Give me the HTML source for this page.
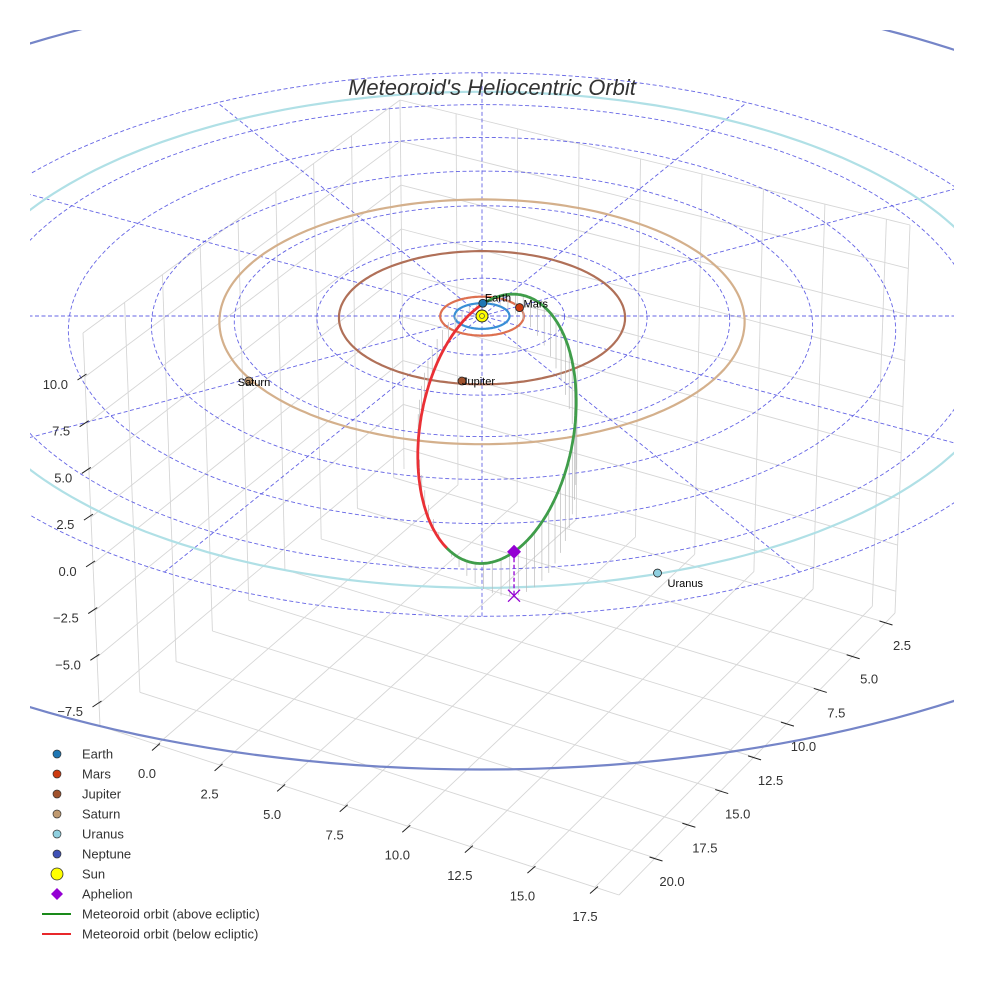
<!DOCTYPE html>
<html><head><meta charset="utf-8"><title>Meteoroid's Heliocentric Orbit</title>
<style>
html,body{margin:0;padding:0;background:#fff;}
svg{display:block;font-family:"Liberation Sans",sans-serif;}
</style></head>
<body>
<svg id="chart" width="984" height="984" viewBox="0 0 984 984" xmlns="http://www.w3.org/2000/svg">
<defs><clipPath id="clipArea"><rect x="30" y="30" width="924" height="920"/></clipPath></defs>
<rect x="0" y="0" width="984" height="984" fill="#fff"/>
<g id="boxGrid"></g>
<g id="ecliptic" clip-path="url(#clipArea)"></g>
<g id="meteor"></g>
<g id="marks"></g>
<g id="ticks"></g>
<text x="492" y="95" text-anchor="middle" font-size="22" font-style="italic" fill="#333">Meteoroid's Heliocentric Orbit</text>
<g id="legend"></g>
</svg>
<script>
// ---- data ----
const xTicks = [0, 2.5, 5, 7.5, 10, 12.5, 15, 17.5];
const yTicks = [2.5, 5, 7.5, 10, 12.5, 15, 17.5, 20];
const zTicks = [-7.5, -5, -2.5, 0, 2.5, 5, 7.5, 10];
const planetNames = ["Earth", "Mars", "Jupiter", "Saturn", "Uranus", "Neptune"];
const planetRadii = [1.0, 1.52, 5.2, 9.54, 19.2, 30.1];
const planetX = [0.03, 1.37, -0.71, -8.27, 5.8, -29.0];
const planetY = [-1.0, -0.66, 4.95, 4.95, 18.25, -8.0];
const ringRadii = [3, 6, 9, 12, 15, 18, 21];
const spokeAngles = [0, 30, 60, 90, 120, 150];
const meteoroidAphelion = [1.05, 19.7, 3.3];
const meteoroidPerihelionDist = [1.0];
const meteoroidMinorDir = [0.6, 0, 0.8];

// ---- styles ----
const planetRingColors = ["#3a8fd6", "#dd7050", "#b07058", "#d4b08c", "#b0e0e6", "#7585c8"];
const planetFill = ["#1f77b4", "#cc3a10", "#a0522d", "#c09a70", "#8fd0e0", "#3f51b5"];
const NS = "http://www.w3.org/2000/svg";
function mk(tag, attrs, parent){const e=document.createElementNS(NS,tag);for(const k in attrs)e.setAttribute(k,attrs[k]);parent.appendChild(e);return e;}

// ---- ecliptic projection ----
const CX=482, CY=316, SX=27.5, SY=12.8, SZ=12, D=200;
function proj(X,Y,Z){const f=1/(1-Y/D);return [CX+SX*X*f, CY+SY*Y*f-SZ*Z*f];}
function pts(arr){return arr.map(p=>p[0].toFixed(1)+","+p[1].toFixed(1)).join(" ");}

// ---- axes box (trilinear) ----
const xmin=-2.28,xmax=18.46,ymin=1.79,ymax=22.75,zmin=-8.68,zmax=12.35;
const C={b000:[404,469],b010:[100,726],b110:[619,895],b100:[895,613],t000:[400,100],t010:[83,333],t110:[619,483],t100:[910,225]};
function box(x,y,z){
  const u=(x-xmin)/(xmax-xmin), v=(y-ymin)/(ymax-ymin), w=(z-zmin)/(zmax-zmin);
  function bil(a,b,c,d){return [0,1].map(i=>a[i]*(1-u)*(1-v)+b[i]*u*(1-v)+c[i]*u*v+d[i]*(1-u)*v);}
  const lo=bil(C.b000,C.b100,C.b110,C.b010), hi=bil(C.t000,C.t100,C.t110,C.t010);
  return [lo[0]*(1-w)+hi[0]*w, lo[1]*(1-w)+hi[1]*w];
}
const gBox=document.getElementById("boxGrid");
function gl(a,b,name){
  const l=mk("line",{x1:a[0].toFixed(1),y1:a[1].toFixed(1),x2:b[0].toFixed(1),y2:b[1].toFixed(1),stroke:"#d6d6d6","stroke-width":"0.9"},gBox);
  
  
}
xTicks.forEach(x=>{gl(box(x,ymin,zmin),box(x,ymax,zmin),"floor-gridline-x");gl(box(x,ymin,zmin),box(x,ymin,zmax),"backwall-gridline-x");});
yTicks.forEach(y=>{gl(box(xmin,y,zmin),box(xmax,y,zmin),"floor-gridline-y");gl(box(xmin,y,zmin),box(xmin,y,zmax),"leftwall-gridline-y");});
zTicks.forEach(z=>{gl(box(xmin,ymin,z),box(xmin,ymax,z),"leftwall-gridline-z");gl(box(xmin,ymin,z),box(xmax,ymin,z),"backwall-gridline-z");});
[[box(xmin,ymax,zmin),box(xmax,ymax,zmin)],[box(xmax,ymax,zmin),box(xmax,ymin,zmin)],[box(xmin,ymax,zmin),box(xmin,ymax,zmax)],[box(xmin,ymax,zmax),box(xmin,ymin,zmax)],[box(xmin,ymin,zmax),box(xmax,ymin,zmax)],[box(xmax,ymin,zmin),box(xmax,ymin,zmax)],[box(xmin,ymin,zmin),box(xmin,ymin,zmax)]].forEach(e=>gl(e[0],e[1],"box-edge"));

// ---- ecliptic grid and planet orbits ----
const gE=document.getElementById("ecliptic");
ringRadii.forEach(r=>{
  const p=[];for(let i=0;i<=180;i++){const t=i/180*2*Math.PI;p.push(proj(r*Math.cos(t),r*Math.sin(t),0));}
  const e=mk("polyline",{points:pts(p),fill:"none",stroke:"#4a4ae0","stroke-width":"0.9","stroke-dasharray":"4,2.5",opacity:"0.85"},gE);
  
  
});
spokeAngles.forEach(a=>{
  const R=ringRadii[ringRadii.length-1],t=a*Math.PI/180;
  const p1=proj(R*Math.cos(t),R*Math.sin(t),0),p2=proj(-R*Math.cos(t),-R*Math.sin(t),0);
  const e=mk("line",{x1:p1[0],y1:p1[1],x2:p2[0],y2:p2[1],stroke:"#4a4ae0","stroke-width":"0.9","stroke-dasharray":"4,2.5",opacity:"0.85"},gE);
  
  
});
planetRadii.forEach((r,k)=>{
  const p=[];for(let i=0;i<=240;i++){const t=i/240*2*Math.PI;p.push(proj(r*Math.cos(t),r*Math.sin(t),0));}
  const e=mk("polyline",{points:pts(p),fill:"none",stroke:planetRingColors[k],"stroke-width":"2.2"},gE);
  
  
});

// ---- meteoroid orbit ----
const gM=document.getElementById("meteor");
const Qd=Math.hypot(...meteoroidAphelion), q=meteoroidPerihelionDist[0];
const Pv=meteoroidAphelion.map(v=>-v/Qd);
let Qv=meteoroidMinorDir.slice();const dp=Qv[0]*Pv[0]+Qv[1]*Pv[1]+Qv[2]*Pv[2];
Qv=Qv.map((v,i)=>v-dp*Pv[i]);const qn=Math.hypot(...Qv);Qv=Qv.map(v=>v/qn);
const A=(q+Qd)/2, ecc=(Qd-q)/(Qd+q), B=A*Math.sqrt(1-ecc*ecc);
const orb=[];for(let i=0;i<=360;i++){const E=i/360*2*Math.PI;const c=A*(Math.cos(E)-ecc),s=B*Math.sin(E);orb.push([0,1,2].map(j=>c*Pv[j]+s*Qv[j]));}
orb.forEach((p,i)=>{ if(i%6!==3) return;
  const a=proj(p[0],p[1],p[2]),b=proj(p[0],p[1],0);
  const l=mk("line",{x1:a[0],y1:a[1],x2:b[0],y2:b[1],stroke:"#bbb","stroke-width":"0.7"},gM);
  
  
});
let run=[],sign=null;
function flush(){ if(run.length<2) return;
  const e=mk("polyline",{points:pts(run),fill:"none",stroke:sign>0?"#3f9d4a":"#ea3035","stroke-width":"2.8","stroke-linecap":"round"},gM);
  
  
}
orb.forEach(p=>{const s=p[2]>=0?1:-1;const sp=proj(p[0],p[1],p[2]);if(s!==sign){if(run.length)run.push(sp);flush();run=[sp];sign=s;}else run.push(sp);});
flush();
// aphelion
const ap=proj(...meteoroidAphelion), apF=proj(meteoroidAphelion[0],meteoroidAphelion[1],0);
let el=mk("line",{x1:ap[0],y1:ap[1],x2:apF[0],y2:apF[1],stroke:"#9400d3","stroke-width":"1.3","stroke-dasharray":"4,2.5"},gM);


el=mk("path",{d:`M${apF[0]-6},${apF[1]-6}L${apF[0]+6},${apF[1]+6}M${apF[0]+6},${apF[1]-6}L${apF[0]-6},${apF[1]+6}`,stroke:"#9400d3","stroke-width":"1.3",fill:"none"},gM);


el=mk("path",{d:`M${ap[0]},${ap[1]-7}L${ap[0]+7},${ap[1]}L${ap[0]},${ap[1]+7}L${ap[0]-7},${ap[1]}Z`,fill:"#9400d3"},gM);



// ---- planets ----
const gP=document.getElementById("marks");
const labelDX=[2,4,0,-11,10,4], labelDY=[-2,0,4,5,14,0];
planetNames.forEach((n,k)=>{
  const p=proj(planetX[k],planetY[k],0);
  if(p[0]<30||p[0]>954) return;
  const c=mk("circle",{cx:p[0],cy:p[1],r:"4",fill:planetFill[k],stroke:"#222","stroke-width":"0.8"},gP);
  
  
  const t=mk("text",{x:p[0]+labelDX[k],y:p[1]+labelDY[k],"font-size":"11",fill:"#000"},gP);
  t.textContent=n;
  
  
});
el=mk("circle",{cx:CX,cy:CY,r:"6",fill:"#ffff00",stroke:"#222","stroke-width":"0.9"},gP);


el=mk("circle",{cx:CX,cy:CY,r:"2.5",fill:"none",stroke:"#555","stroke-width":"0.8"},gP);



// ---- ticks ----
const gT=document.getElementById("ticks");
function tick(mid,dx,dy,label,lx,ly,anchor,name){
  const l=mk("line",{x1:mid[0]-dx,y1:mid[1]-dy,x2:mid[0]+dx,y2:mid[1]+dy,stroke:"#222","stroke-width":"1"},gT);
  
  
  const t=mk("text",{x:mid[0]+lx,y:mid[1]+ly,"font-size":"13","text-anchor":anchor,fill:"#333"},gT);
  t.textContent=label;
  
  
}
function fmt(v){return (v<0?"\u2212":"")+Math.abs(v).toFixed(1);}
xTicks.forEach(v=>{const m=[156+(v/17.5)*438,747+(v/17.5)*143];tick(m,4,-3.5,fmt(v),-9,31,"middle","x-axis");});
yTicks.forEach(v=>{const s=(20-v)/17.5;const m=[656+s*230,859-s*236];tick(m,6.5,2,fmt(v),16,27,"middle","y-axis");});
zTicks.forEach(v=>{const s=(v+7.5)/17.5;const m=[97-s*15,704-s*327];tick(m,4.5,-3,fmt(v),-14,12,"end","z-axis");});

// ---- legend ----
const gL=document.getElementById("legend");
const legNames=["Earth","Mars","Jupiter","Saturn","Uranus","Neptune","Sun","Aphelion","Meteoroid orbit (above ecliptic)","Meteoroid orbit (below ecliptic)"];
legNames.forEach((n,i)=>{
  const y=754+i*20;
  const g=mk("g",{},gL);
  
  
  if(i<6) mk("circle",{cx:57,cy:y,r:"4",fill:planetFill[i],stroke:"#333","stroke-width":"0.7"},g);
  else if(i===6) mk("circle",{cx:57,cy:y,r:"6",fill:"#ffff00",stroke:"#333","stroke-width":"0.8"},g);
  else if(i===7) mk("path",{d:`M57,${y-6}L63,${y}L57,${y+6}L51,${y}Z`,fill:"#9400d3"},g);
  else mk("line",{x1:42,y1:y,x2:71,y2:y,stroke:i===8?"#1a8a1a":"#e8282b","stroke-width":"2"},g);
  const t=mk("text",{x:82,y:y+4.5,"font-size":"13",fill:"#333"},g);
  t.textContent=n;
});
</script>
</body></html>
